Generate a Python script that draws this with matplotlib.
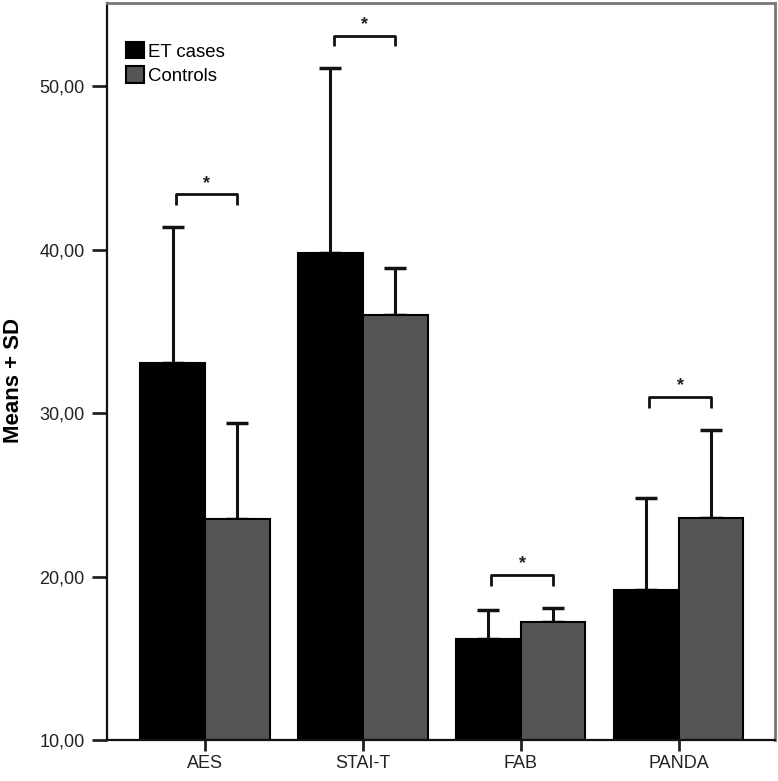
import matplotlib
matplotlib.use('Agg')
import matplotlib.pyplot as plt
import numpy as np
from matplotlib.ticker import FuncFormatter

plt.rcParams['font.family'] = ['Liberation Sans', 'DejaVu Sans']

# data
categories = ['AES', 'STAI-T', 'FAB', 'PANDA']
et_means = [33.05, 39.8, 16.2, 19.2]
et_sd = [8.35, 11.3, 1.75, 5.6]
ctrl_means = [23.5, 36.0, 17.25, 23.6]
ctrl_sd = [5.9, 2.9, 0.85, 5.4]
series_names = ['ET cases', 'Controls']
significant = [True, True, True, True]

fig = plt.figure(figsize=(7.78, 7.81), dpi=100)
ax = fig.add_axes([0.1375, 0.0525, 0.8585, 0.9435])

x = np.arange(len(categories))
w = 0.41
et_x = x - w / 2
ctrl_x = x + w / 2

ax.bar(et_x, np.array(et_means) - 10, w, bottom=10, color='#000000',
       edgecolor='#000000', linewidth=1.5, label=series_names[0], zorder=2)
ax.bar(ctrl_x, np.array(ctrl_means) - 10, w, bottom=10, color='#555555',
       edgecolor='#000000', linewidth=1.5, label=series_names[1], zorder=2)

# only the upper half of the SD bar
ax.errorbar(et_x, et_means, yerr=[np.zeros(4), et_sd], fmt='none', ecolor='#111111',
            elinewidth=2.2, capsize=8, capthick=2.5, zorder=1)
ax.errorbar(ctrl_x, ctrl_means, yerr=[np.zeros(4), ctrl_sd], fmt='none', ecolor='#111111',
            elinewidth=2.2, capsize=8, capthick=2.5, zorder=1)

# significance brackets
for i, sig in enumerate(significant):
    if not sig:
        continue
    top = max(et_means[i] + et_sd[i], ctrl_means[i] + ctrl_sd[i]) + 2.0
    x0 = et_x[i] + 0.02
    x1 = ctrl_x[i]
    ax.plot([x0, x0, x1, x1], [top - 0.65, top, top, top - 0.65], color='#111111',
            lw=2, solid_capstyle='butt', zorder=3)
    ax.text((x0 + x1) / 2, top + 0.15, '*', ha='center', va='bottom',
            fontsize=13, fontweight='bold', color='#222222')

ax.set_xlim(-0.62, 3.61)
ax.set_ylim(10, 55.1)
ax.set_yticks([10, 20, 30, 40, 50])
ax.yaxis.set_major_formatter(FuncFormatter(lambda v, p: f'{v:.2f}'.replace('.', ',')))
ax.set_xticks(x)
ax.set_xticklabels(categories)
ax.tick_params(axis='both', labelsize=13, labelcolor='#222222', width=2,
               color='#222222')
ax.tick_params(axis='x', length=8, pad=3)
ax.tick_params(axis='y', length=11, pad=5)

ax.set_ylabel('Means + SD', fontsize=16, fontweight='bold')
ax.yaxis.set_label_coords(-0.124, 0.4885)

for s in ['left', 'bottom']:
    ax.spines[s].set_color('#111111')
    ax.spines[s].set_linewidth(1.6)
for s in ['top', 'right']:
    ax.spines[s].set_color('#777777')
    ax.spines[s].set_linewidth(2)

ax.legend(loc='upper left', bbox_to_anchor=(0.028, 0.947), frameon=False,
          fontsize=13.4, handlelength=0.97, handleheight=0.97, handletextpad=0.25,
          labelspacing=0.3, borderaxespad=0, borderpad=0)

fig.savefig('out.png', dpi=100)
